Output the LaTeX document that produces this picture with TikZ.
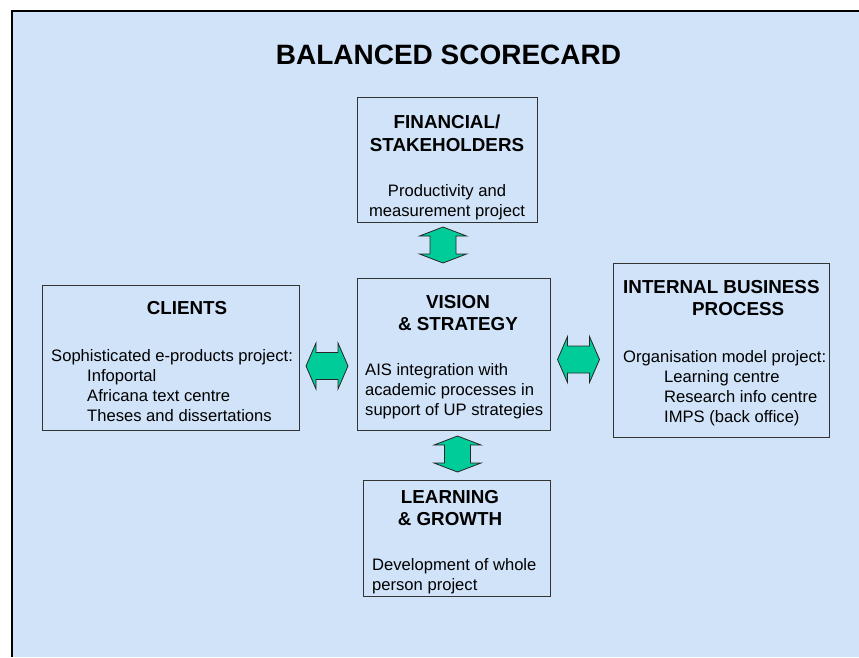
\documentclass[tikz,border=0pt]{standalone}
\usepackage{fontspec}
\setmainfont{Liberation Sans}
\usepackage{tikz}
\usetikzlibrary{positioning,calc}
\definecolor{sfondo}{RGB}{209,227,249}
\definecolor{verde}{RGB}{0,204,153}
\tikzstyle{riquadro} = [rectangle, inner sep=0pt, draw=black!80, line width=0.9pt]
\tikzstyle{titolo} = [inner sep=0pt, font=\fontsize{18.8}{22.5}\selectfont\bfseries]
\tikzstyle{testo} = [inner sep=0pt, align=left, font=\fontsize{16.6}{20}\selectfont]
\tikzstyle{freccia} = [fill=verde, draw=black!85, line width=0.8pt, line join=miter]
\tikzset{
  frecciav/.pic={\draw[freccia] (0,-18) -- (23.5,-9) -- (13,-9) -- (13,9) -- (23.5,9) -- (0,18)
    -- (-23.5,9) -- (-13,9) -- (-13,-9) -- (-23.5,-9) -- cycle;},
  frecciao/.pic={\draw[freccia] (-21,0) -- (-11,-23) -- (-11,-13.5) -- (11,-13.5) -- (11,-23) -- (21,0)
    -- (11,23) -- (11,13.5) -- (-11,13.5) -- (-11,23) -- cycle;}
}

\begin{document}
\begin{tikzpicture}[x=1pt, y=-1pt]
						\useasboundingbox (0,0) rectangle (859,657);
						\fill[white] (0,0) rectangle (859,657);
						\fill[sfondo] (12,11) rectangle (859,657);
						\draw[line width=2.5pt] (12,657) -- (12,11) -- (859,11);
						\node (title) at (448.5,55) [inner sep=0pt, font=\fontsize{28}{33}\selectfont\bfseries] {BALANCED SCORECARD};
						% riquadri
						\node (fin) at (447,159.5) [riquadro, minimum width=180pt, minimum height=125pt] {};
						\node (vis) at (453.5,354) [riquadro, minimum width=193pt, minimum height=152pt] {};
						\node (cli) at (170.5,357.5) [riquadro, minimum width=257pt, minimum height=145pt] {};
						\node (ibp) at (721,350) [riquadro, minimum width=216pt, minimum height=174pt] {};
						\node (lea) at (456.5,538) [riquadro, minimum width=187pt, minimum height=116pt] {};
						% testi
						\node (fint) at (447,133.5) [titolo, align=center] {FINANCIAL/\\STAKEHOLDERS};
						\node (finb) at (447,202.5) [testo, align=center] {Productivity and\\measurement project};
						\node (vist) at (458,313) [titolo, align=center] {VISION\\\& STRATEGY};
						\node[anchor=west] (visb) at (365,391.5) [testo] {AIS integration with\\academic processes in\\support of UP strategies};
						\node (clit) at (187,308) [titolo] {CLIENTS};
						\node[anchor=west] (clib) at (51,385.5) [testo] {Sophisticated e-products project:\\\hspace*{36pt}Infoportal\\\hspace*{36pt}Africana text centre\\\hspace*{36pt}Theses and dissertations};
						\node[anchor=west] (ibpt) at (623,298) [titolo, align=left] {INTERNAL BUSINESS\\\hspace*{69pt}PROCESS};
						\node[anchor=west] (ibpb) at (623,388) [testo] {Organisation model project:\\\hspace*{41pt}Learning centre\\\hspace*{41pt}Research info centre\\\hspace*{41pt}IMPS (back office)};
						\node (leat) at (450,508) [titolo, align=center] {LEARNING\\\& GROWTH};
						\node[anchor=west] (leab) at (372,576.5) [testo] {Development of whole\\person project};
						% frecce
						\pic at (443,245) {frecciav};
						\pic at (457.5,454) {frecciav};
						\pic at (327,366) {frecciao};
						\pic at (578.5,359.5) {frecciao};
					\end{tikzpicture}
\end{document}
